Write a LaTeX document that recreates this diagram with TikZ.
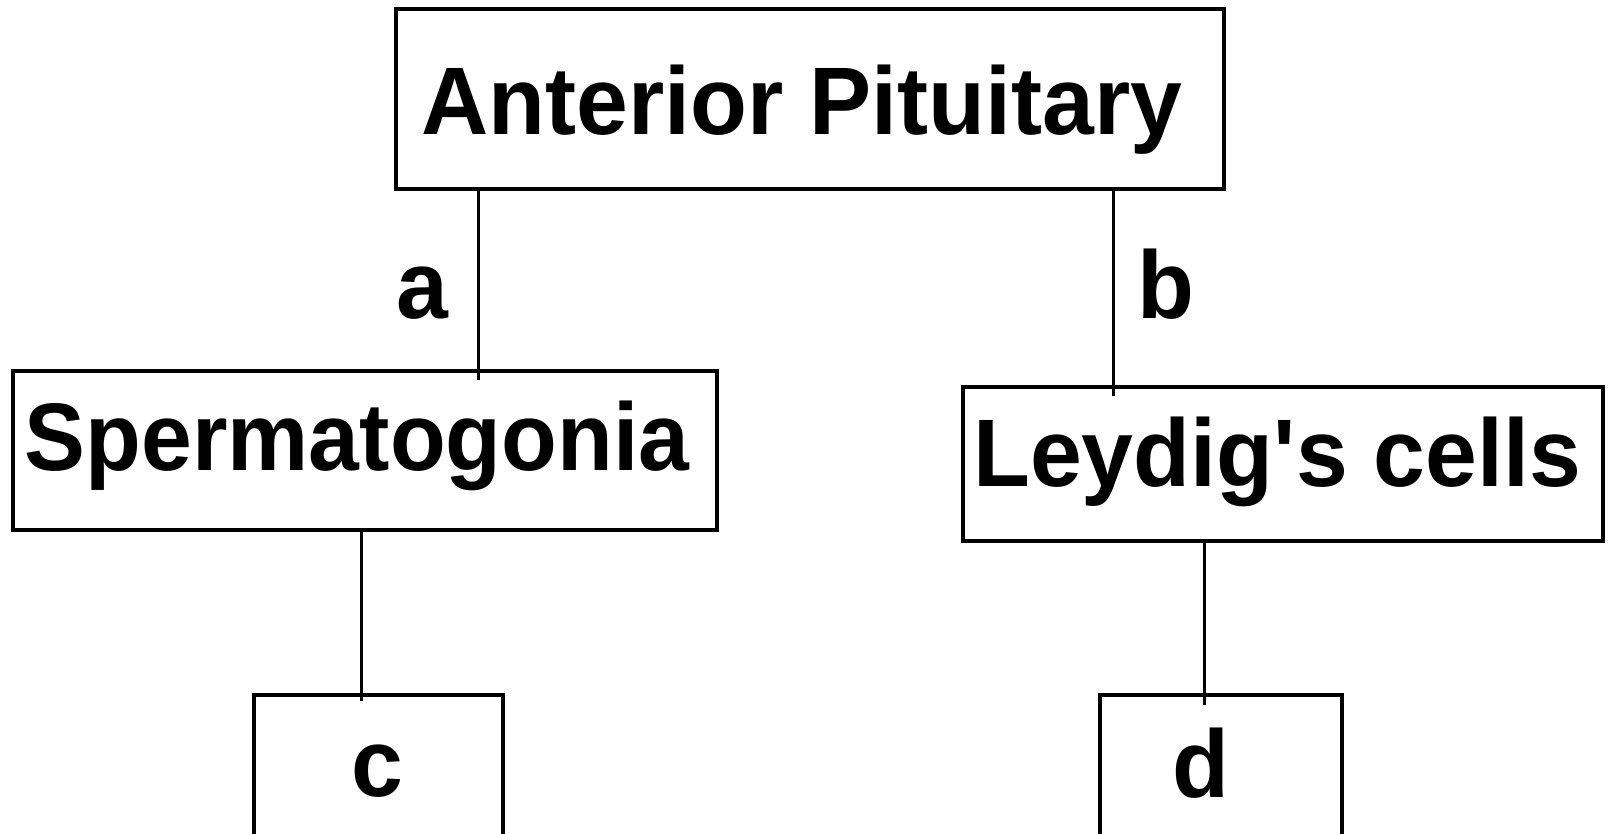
\documentclass[tikz,border=0pt]{standalone}
\usepackage{fontspec}
\usepackage{graphicx}
\setmainfont{Liberation Sans}[FakeStretch=0.97]
\tikzset{
  boxnode/.style={draw=black, line width=4pt, inner sep=0pt, rectangle},
  conn/.style={draw=black, line width=3pt},
  lbl/.style={anchor=base, inner sep=0pt, font=\fontsize{96}{110}\selectfont\bfseries},
}
\begin{document}
\begin{tikzpicture}[x=1pt,y=-1pt]
\useasboundingbox (0,0) rectangle (1608,834);
\clip (0,0) rectangle (1608,834);
% boxes
\node[boxnode, minimum width=828pt, minimum height=179.5pt] (ap) at (810,99.25) {};
\node[boxnode, minimum width=704.5pt, minimum height=159pt] (sp) at (364.75,450.5) {};
\node[boxnode, minimum width=640.5pt, minimum height=154pt] (ly) at (1282.75,464) {};
\node[boxnode, minimum width=248.4pt, minimum height=205pt] (cb) at (378.5,797.5) {};
\node[boxnode, minimum width=242pt, minimum height=205pt] (db) at (1221,797.5) {};
% texts
\node[lbl] (apt) at (802,135) {Anterior Pituitary};
\node[lbl] (spt) at (357,470) {\scalebox{0.98}[1]{Spermatogonia}};
\node[lbl] (lyt) at (1277,486.5) {Leydig\textquotesingle s cells};
\node[lbl] (la) at (422,318) {a};
\node[lbl] (lb) at (1166,318) {b};
\node[lbl] (lc) at (377,796) {c};
\node[lbl] (ld) at (1201,797) {d};
% connector ends
\coordinate (ea) at (478.5,380);
\coordinate (eb) at (1113.5,396);
\coordinate (ec) at (361.5,700.7);
\coordinate (ed) at (1204.3,705);
\draw[conn] (ap.south -| ea) -- (ea);
\draw[conn] (ap.south -| eb) -- (eb);
\draw[conn] (sp.south -| ec) -- (ec);
\draw[conn] (ly.south -| ed) -- (ed);
\end{tikzpicture}
\end{document}
